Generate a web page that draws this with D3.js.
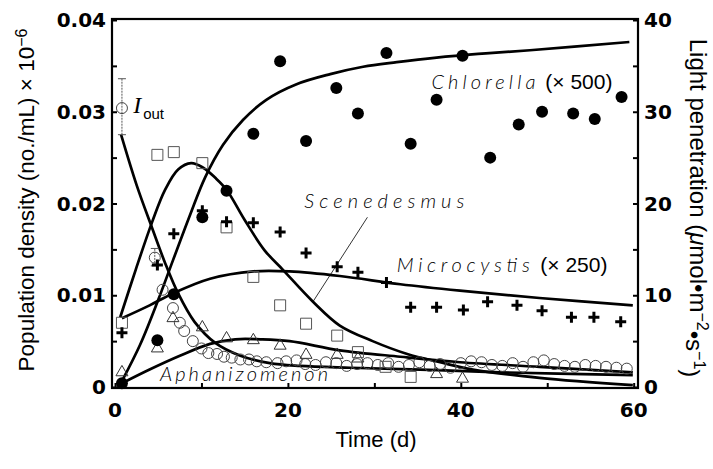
<!DOCTYPE html>
<html>
<head>
<meta charset="utf-8">
<script src="https://cdn.jsdelivr.net/npm/d3@7"></script>
<style>
body { margin: 0; background: #fff; }
</style>
</head>
<body>
<div id="chart"></div>
<script>
// values: [day, value]
// left axis: population density (no./mL) x 10^-6
const chlorellaPts = [[0.8, 0.0004], [4.9, 0.0051], [6.8, 0.0101], [10.1, 0.0185], [12.9, 0.0214], [16.0, 0.0276],
    [19.1, 0.0355], [22.1, 0.0268], [25.6, 0.0326], [28.1, 0.0298], [31.4, 0.0364], [34.2, 0.0265], [37.2, 0.0313],
    [40.2, 0.0361], [43.4, 0.0250], [46.7, 0.0286], [49.4, 0.0300], [53.0, 0.0298], [55.5, 0.0292], [58.6, 0.0316]];
const scenedesmusPts = [[0.8, 0.0070], [4.9, 0.0253], [6.8, 0.0256], [10.1, 0.0244], [12.9, 0.0174], [16.0, 0.0120],
    [19.1, 0.0089], [22.1, 0.0069], [25.7, 0.0056], [28.1, 0.0038], [31.3, 0.0022], [34.2, 0.0011]];
const microcystisPts = [[0.8, 0.0059], [4.9, 0.0133], [6.8, 0.0167], [10.1, 0.0192], [12.9, 0.0180], [16.0, 0.0179],
    [19.1, 0.0169], [22.1, 0.0146], [25.7, 0.0131], [28.1, 0.0125], [31.4, 0.0114], [34.2, 0.0087], [37.2, 0.0087],
    [40.3, 0.0084], [43.1, 0.0093], [46.5, 0.0089], [49.4, 0.0083], [52.8, 0.0076], [55.4, 0.0076], [58.5, 0.0071]];
const aphanizomenonPts = [[0.8, 0.0016], [4.9, 0.0042], [6.7, 0.0075], [10.1, 0.0065], [12.9, 0.0053], [16.0, 0.0051],
    [19.1, 0.0045], [22.1, 0.0035], [25.7, 0.0035], [28.1, 0.0031], [37.2, 0.0014], [40.2, 0.0009]];

// fitted model curves (left axis)
const chlorellaFit = [[0.8, 0.00065], [2.9, 0.0046], [5.0, 0.0095], [6.7, 0.0138], [8.7, 0.0188], [10.4, 0.0228],
    [12.5, 0.0264], [14.8, 0.0291], [17.5, 0.0313], [21.0, 0.0330], [24.9, 0.0341], [28.7, 0.0349], [32.6, 0.0354],
    [37.2, 0.0359], [42.0, 0.0363], [48.0, 0.0367], [59.5, 0.0376]];
const scenedesmusFit = [[0.6, 0.0076], [2.4, 0.0128], [4.3, 0.0180], [5.8, 0.0215], [7.3, 0.0237], [8.8, 0.0244],
    [10.2, 0.0239], [11.6, 0.0228], [12.9, 0.0215], [15.0, 0.0182], [17.3, 0.0149], [19.4, 0.0128], [22.9, 0.0093],
    [26.0, 0.0067], [29.8, 0.0050], [33.8, 0.0036], [37.6, 0.0027], [41.4, 0.0019], [49.1, 0.0010], [59.9, 0.0002]];
const microcystisFit = [[0.8, 0.0075], [4.0, 0.0089], [6.7, 0.0102], [11.0, 0.0118], [16.0, 0.0126], [20.2, 0.0126],
    [26.0, 0.0121], [33.0, 0.0112], [39.9, 0.0105], [49.1, 0.0097], [59.9, 0.0089]];
const aphanizomenonFit = [[0.8, 0.0004], [4.0, 0.0019], [7.5, 0.0034], [11.0, 0.0047], [13.9, 0.0052], [16.8, 0.0052],
    [20.2, 0.0050], [26.0, 0.0040], [33.0, 0.0033], [39.9, 0.0027], [49.1, 0.0022], [59.9, 0.0016]];

// right axis: light penetration (umol m^-2 s^-1)
const ioutPts = [[0.8, 30.4], [4.6, 14.1], [5.5, 10.6], [6.7, 8.6], [7.5, 7.0], [8.0, 6.1], [9.0, 5.0], [10.0, 4.2],
    [10.8, 3.7], [11.8, 3.6], [12.6, 3.3], [13.5, 3.2], [14.5, 3.0], [15.5, 3.0], [16.4, 2.8], [17.5, 2.7], [18.8, 2.6],
    [19.8, 2.8], [21.0, 2.9], [22.0, 2.5], [23.2, 2.4], [24.4, 2.7], [25.6, 2.6], [26.8, 2.3], [28.0, 2.5], [29.2, 2.6],
    [30.4, 2.4], [31.6, 2.6], [32.8, 2.2], [34.0, 2.4], [35.2, 2.7], [36.4, 2.3], [37.6, 2.5], [38.8, 2.1], [40.0, 2.6],
    [41.2, 2.8], [42.4, 2.7], [43.6, 2.4], [44.8, 2.3], [46.0, 2.6], [47.2, 2.2], [48.4, 2.7], [49.6, 2.9], [50.8, 2.5],
    [52.0, 2.3], [53.2, 2.2], [54.4, 2.4], [55.6, 2.3], [56.8, 2.2], [58.0, 2.1], [59.2, 2.0]];
const ioutErr = [[0.8, 27.5, 33.6], [4.6, 13.2, 15.1]];
const ioutFit = [[0.7, 27.5], [2.5, 22.0], [4.3, 17.3], [5.8, 13.5], [7.3, 10.2], [9.2, 7.1], [11.6, 4.8], [14.5, 3.4],
    [17.9, 2.6], [21.4, 2.3], [27.2, 2.1], [35.3, 1.9], [44.5, 1.6], [59.9, 1.3]];

const xTicks = [0, 20, 40, 60];
const yLeftTicks = [0, 0.01, 0.02, 0.03, 0.04];
const yLeftLabels = ["0", "0.01", "0.02", "0.03", "0.04"];
const yRightTicks = [0, 10, 20, 30, 40];

const width = 713, height = 469;
const margin = { left: 112, right: 75, top: 19, bottom: 81 };

const svg = d3.select('#chart')
    .append('svg')
    .attr('width', width)
    .attr('height', height);

const x = d3.scaleLinear().domain([-0.35, 60.5]).range([margin.left, width - margin.right]);
const yL = d3.scaleLinear().domain([0, 0.04]).range([387, 20]);
const yR = d3.scaleLinear().domain([0, 40]).range([387, 20]);

const tickFont = "'DejaVu Sans', sans-serif";
const labelFont = "'Liberation Sans', Arial, sans-serif";
const speciesFont = "Lato, 'DejaVu Sans', sans-serif";

// frame
svg.append('rect')
    .attr('x', margin.left).attr('y', margin.top)
    .attr('width', width - margin.right - margin.left)
    .attr('height', 388 - margin.top)
    .attr('fill', 'none')
    .attr('stroke', '#000')
    .attr('stroke-width', 2.2);

// inner ticks (major + minor)
const leftAx = svg.append('g').attr('transform', 'translate(' + margin.left + ',0)')
    .call(d3.axisRight(yL).tickValues(d3.range(0, 0.0401, 0.005)).tickSize(5).tickFormat(''));
const rightAx = svg.append('g').attr('transform', 'translate(' + (width - margin.right) + ',0)')
    .call(d3.axisLeft(yR).tickValues(d3.range(0, 40.1, 5)).tickSize(5).tickFormat(''));
const botAx = svg.append('g').attr('transform', 'translate(0,388)')
    .call(d3.axisTop(x).tickValues(d3.range(0, 61, 10)).tickSize(5).tickFormat(''));
[leftAx, rightAx, botAx].forEach(g => {
    g.select('.domain').remove();
    g.selectAll('line').attr('stroke', '#000').attr('stroke-width', 2);
});

// tick labels
svg.append('g').selectAll('text')
    .data(yLeftTicks)
    .enter().append('text')
    .attr('x', 106)
    .attr('y', d => yL(d))
    .attr('dy', '0.36em')
    .attr('text-anchor', 'end')
    .style('font-family', tickFont).style('font-weight', 'bold').style('font-size', '20px')
    .text((d, i) => yLeftLabels[i]);

svg.append('g').selectAll('text')
    .data(yRightTicks)
    .enter().append('text')
    .attr('x', 644)
    .attr('y', d => yR(d))
    .attr('dy', '0.36em')
    .style('font-family', tickFont).style('font-weight', 'bold').style('font-size', '20px')
    .text(d => d);

svg.append('g').selectAll('text')
    .data(xTicks)
    .enter().append('text')
    .attr('x', d => x(d))
    .attr('y', 417)
    .attr('text-anchor', 'middle')
    .style('font-family', tickFont).style('font-weight', 'bold').style('font-size', '20px')
    .text(d => d);

// axis titles
svg.append('text')
    .attr('x', 376).attr('y', 447)
    .attr('text-anchor', 'middle')
    .style('font-family', labelFont).style('font-size', '22px')
    .text('Time (d)');

const leftTitle = svg.append('text')
    .attr('transform', 'translate(34,' + 200 + ') rotate(-90)')
    .attr('text-anchor', 'middle')
    .style('font-family', labelFont).style('font-size', '22.5px');
leftTitle.append('tspan').text('Population density (no./mL) \u00d7 10');
leftTitle.append('tspan').attr('dy', '-0.45em').style('font-size', '16px').text('\u22126');

const rightTitle = svg.append('text')
    .attr('transform', 'translate(690,' + 208 + ') rotate(90)')
    .attr('text-anchor', 'middle')
    .style('font-family', labelFont).style('font-size', '24px');
rightTitle.append('tspan').text('Light penetration (');
rightTitle.append('tspan').style('font-style', 'italic').text('\u03bc');
rightTitle.append('tspan').text('mol\u2022m');
rightTitle.append('tspan').attr('dy', '-0.45em').style('font-size', '16px').text('\u22122');
rightTitle.append('tspan').attr('dy', '0.45em').text('\u2022s');
rightTitle.append('tspan').attr('dy', '-0.45em').style('font-size', '16px').text('\u22121');
rightTitle.append('tspan').attr('dy', '0.45em').text(')');

// model curves
const lineL = d3.line().x(d => x(d[0])).y(d => yL(d[1])).curve(d3.curveCatmullRom.alpha(0.5));
const lineR = d3.line().x(d => x(d[0])).y(d => yR(d[1])).curve(d3.curveCatmullRom.alpha(0.5));

const curves = svg.append('g').attr('fill', 'none').attr('stroke', '#000').attr('stroke-width', 2.7);
[chlorellaFit, scenedesmusFit, microcystisFit, aphanizomenonFit].forEach(c => {
    curves.append('path').attr('d', lineL(c));
});
curves.append('path').attr('d', lineR(ioutFit));

// error bars for I_out
const err = svg.append('g').attr('stroke', '#555').attr('stroke-width', 1);
ioutErr.forEach(e => {
    err.append('line').attr('x1', x(e[0])).attr('x2', x(e[0])).attr('y1', yR(e[1])).attr('y2', yR(e[2]))
        .attr('stroke-dasharray', '2,1');
    [e[1], e[2]].forEach(v => {
        err.append('line').attr('x1', x(e[0]) - 4).attr('x2', x(e[0]) + 4).attr('y1', yR(v)).attr('y2', yR(v));
    });
});

// I_out open circles
svg.append('g').selectAll('circle')
    .data(ioutPts)
    .enter().append('circle')
    .attr('cx', d => x(d[0]))
    .attr('cy', d => yR(d[1]))
    .attr('r', 5.5)
    .attr('fill', 'none')
    .attr('stroke', '#444')
    .attr('stroke-width', 1);

// Aphanizomenon triangles
svg.append('g').selectAll('path')
    .data(aphanizomenonPts)
    .enter().append('path')
    .attr('d', d3.symbol().type(d3.symbolTriangle).size(62))
    .attr('transform', d => 'translate(' + x(d[0]) + ',' + yL(d[1]) + ')')
    .attr('fill', 'none')
    .attr('stroke', '#333')
    .attr('stroke-width', 1);

// Scenedesmus squares
svg.append('g').selectAll('path')
    .data(scenedesmusPts)
    .enter().append('path')
    .attr('d', d3.symbol().type(d3.symbolSquare).size(121))
    .attr('transform', d => 'translate(' + x(d[0]) + ',' + yL(d[1]) + ')')
    .attr('fill', 'none')
    .attr('stroke', '#555')
    .attr('stroke-width', 1);

// Microcystis plus signs
svg.append('g').selectAll('path')
    .data(microcystisPts)
    .enter().append('path')
    .attr('d', 'M-5.5,0H5.5M0,-5.5V5.5')
    .attr('transform', d => 'translate(' + x(d[0]) + ',' + yL(d[1]) + ')')
    .attr('stroke', '#000')
    .attr('stroke-width', 3);

// Chlorella filled circles
svg.append('g').selectAll('circle')
    .data(chlorellaPts)
    .enter().append('circle')
    .attr('cx', d => x(d[0]))
    .attr('cy', d => yL(d[1]))
    .attr('r', 6)
    .attr('fill', '#000');

// annotations
function speciesLabel(day, val, name, len, extra) {
    let t = svg.append('text')
        .attr('x', x(day)).attr('y', yL(val))
        .style('font-family', speciesFont).style('font-size', '20px');
    t.append('tspan').style('font-style', 'italic').style('font-weight', 300)
        .attr('textLength', len).attr('lengthAdjust', 'spacing').text(name);
    if (extra) {
        t.append('tspan').style('font-family', labelFont).style('font-size', '21px')
            .text(extra);
    }
}
speciesLabel(36.6, 0.0325, 'Chlorella', 104, ' (\u00d7 500)');
speciesLabel(32.6, 0.0125, 'Microcystis', 133, '  (\u00d7 250)');
speciesLabel(21.9, 0.0195, 'Scenedesmus', 160);
speciesLabel(5.2, 0.0007, 'Aphanizomenon', 168);

// leader line for Scenedesmus
svg.append('line')
    .attr('x1', x(29.2)).attr('y1', yL(0.0185))
    .attr('x2', x(22.9)).attr('y2', yL(0.0093))
    .attr('stroke', '#000').attr('stroke-width', 0.8);

// I_out label
const iout = svg.append('text')
    .attr('x', x(2.1)).attr('y', yR(30.5))
    .attr('dy', '0.35em');
iout.append('tspan').style('font-family', "'Liberation Serif', serif").style('font-style', 'italic')
    .style('font-size', '24px').text('I');
iout.append('tspan').attr('dy', '0.4em').attr('dx', 2).style('font-family', labelFont)
    .style('font-size', '15px').text('out');
</script>
</body>
</html>
